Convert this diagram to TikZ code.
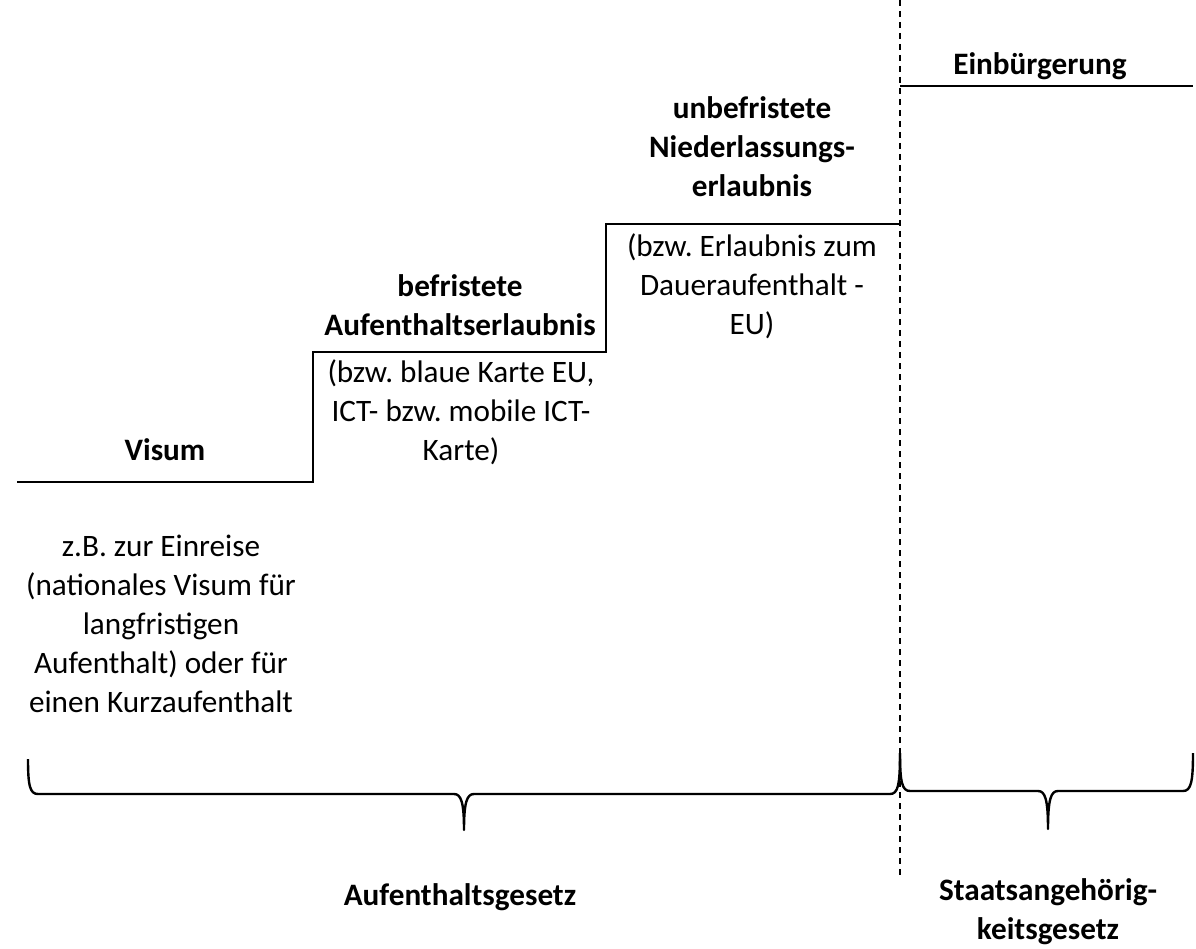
\documentclass[tikz,border=0pt]{standalone}
\usepackage{fontspec}
\setmainfont{Carlito}
\frenchspacing
\begin{document}
\begin{tikzpicture}[x=1pt,y=-1pt,
  txt/.style={inner sep=0pt, align=center, font=\fontsize{31.2}{39}\selectfont},
  bold/.style={txt, font=\fontsize{31.2}{39}\selectfont\bfseries},
  stair/.style={line width=2.8pt, line join=miter},
  brc/.style={line width=2.4pt, line join=round},
  divider/.style={line width=2pt, dash pattern=on 6pt off 5pt}]
\useasboundingbox (0,0) rectangle (1196,949);

% coordinates
\coordinate (s0) at (17,482);
\coordinate (s1) at (313,482);
\coordinate (s2) at (313,352);
\coordinate (s3) at (606,352);
\coordinate (s4) at (606,224);
\coordinate (s5) at (900,224);
\coordinate (e0) at (900,86);
\coordinate (e1) at (1193,86);
\coordinate (dtop) at (900,0);
\coordinate (dbot) at (900,876);

% divider
\draw[divider] (dtop) -- (dbot);

% stairs
\draw[stair] (s0) -- (s1) -- (s2) -- (s3) -- (s4) -- (s5);
\draw[stair] (e0) -- (e1);

% braces
\draw[brc] (28,759) .. controls (28,786) and (30,794) .. (38,794)
  -- (454,794) .. controls (461,794) and (464,802) .. (464,830)
  .. controls (464,802) and (467,794) .. (474,794)
  -- (890,794) .. controls (898,794) and (900,785) .. (900,753);
\draw[brc] (900,753) .. controls (900,782) and (902,791) .. (910,791)
  -- (1038,791) .. controls (1045,791) and (1048,799) .. (1048,829)
  .. controls (1048,799) and (1051,791) .. (1058,791)
  -- (1183,791) .. controls (1191,791) and (1193,782) .. (1193,753);

% texts
\node[bold] (visum) at (165,450) {Visum};
\node[txt] (visumtxt) at (161,624) {z.B. zur Einreise\\(nationales Visum für\\langfristigen\\Aufenthalt) oder für\\einen Kurzaufenthalt};
\node[bold] (befr) at (460,305) {befristete\\Aufenthaltserlaubnis};
\node[txt] (befrtxt) at (461,412) {(bzw. blaue Karte EU,\\ICT- bzw. mobile ICT-\\Karte)};
\node[bold] (unbefr) at (752,147) {unbefristete\\Niederlassungs-\\erlaubnis};
\node[txt] (unbefrtxt) at (752,286) {(bzw. Erlaubnis zum\\Daueraufenthalt -\\EU)};
\node[bold] (einb) at (1040,66) {Einbürgerung};
\node[bold] (aufg) at (460,897) {Aufenthaltsgesetz};
\node[bold] (stag) at (1048,912) {Staatsangehörig-\\keitsgesetz};
\end{tikzpicture}
\end{document}
